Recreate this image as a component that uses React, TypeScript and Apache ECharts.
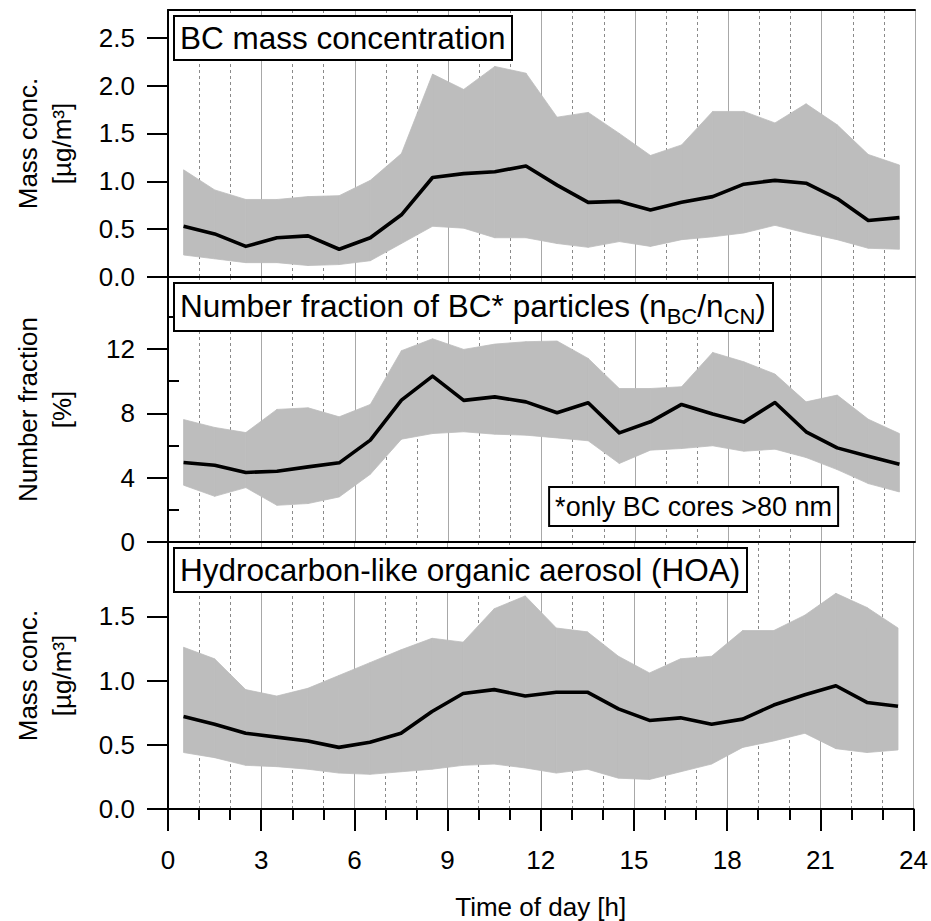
import React, { useEffect, useRef } from "react";
import * as echarts from "echarts";

const FONT = "'Liberation Sans', Arial, Helvetica, sans-serif";

// Time of day (hour bin centres)
const hours = [0.5, 1.5, 2.5, 3.5, 4.5, 5.5, 6.5, 7.5, 8.5, 9.5, 10.5, 11.5, 12.5, 13.5, 14.5, 15.5, 16.5, 17.5, 18.5, 19.5, 20.5, 21.5, 22.5, 23.5];

// Panel 1: BC mass concentration [µg/m³]
const bcMean = [0.53, 0.45, 0.32, 0.41, 0.43, 0.29, 0.41, 0.65, 1.04, 1.08, 1.1, 1.16, 0.96, 0.78, 0.79, 0.7, 0.78, 0.84, 0.97, 1.01, 0.98, 0.82, 0.59, 0.62];
const bcUpper = [1.12, 0.91, 0.81, 0.81, 0.84, 0.85, 1.01, 1.29, 2.12, 1.96, 2.2, 2.13, 1.67, 1.72, 1.5, 1.27, 1.38, 1.73, 1.73, 1.61, 1.81, 1.59, 1.28, 1.17];
const bcLower = [0.23, 0.19, 0.15, 0.15, 0.12, 0.13, 0.17, 0.35, 0.53, 0.51, 0.41, 0.41, 0.35, 0.31, 0.37, 0.32, 0.39, 0.42, 0.46, 0.54, 0.46, 0.39, 0.3, 0.29];

// Panel 2: number fraction of BC* particles [%]
const nfMean = [4.94, 4.77, 4.32, 4.4, 4.67, 4.92, 6.33, 8.82, 10.31, 8.8, 9.02, 8.71, 8.03, 8.65, 6.78, 7.47, 8.55, 7.95, 7.45, 8.67, 6.85, 5.85, 5.33, 4.83];
const nfUpper = [7.61, 7.12, 6.8, 8.24, 8.34, 7.78, 8.55, 11.89, 12.63, 11.97, 12.3, 12.45, 12.49, 11.41, 9.54, 9.54, 9.65, 11.78, 11.2, 10.44, 8.71, 9.13, 7.63, 6.74];
const nfLower = [3.53, 2.84, 3.38, 2.28, 2.39, 2.8, 4.21, 6.39, 6.74, 6.85, 6.7, 6.64, 6.47, 6.29, 4.88, 5.71, 5.81, 5.98, 5.64, 5.77, 5.25, 4.5, 3.63, 3.11];

// Panel 3: HOA mass concentration [µg/m³]
const hoaMean = [0.72, 0.66, 0.59, 0.56, 0.53, 0.48, 0.52, 0.59, 0.76, 0.9, 0.93, 0.88, 0.91, 0.91, 0.78, 0.69, 0.71, 0.66, 0.7, 0.81, 0.89, 0.96, 0.83, 0.8];
const hoaUpper = [1.26, 1.17, 0.93, 0.88, 0.94, 1.04, 1.14, 1.24, 1.33, 1.3, 1.56, 1.66, 1.41, 1.38, 1.19, 1.06, 1.17, 1.19, 1.39, 1.39, 1.51, 1.68, 1.57, 1.41];
const hoaLower = [0.44, 0.4, 0.34, 0.33, 0.31, 0.28, 0.27, 0.29, 0.31, 0.34, 0.35, 0.32, 0.28, 0.31, 0.24, 0.23, 0.29, 0.35, 0.48, 0.53, 0.59, 0.47, 0.44, 0.46];

// Tick values
const bcTicks = [0, 0.5, 1, 1.5, 2, 2.5];
const nfTicks = [0, 4, 8, 12];
const nfMinorTicks = [2, 6, 10, 14];
const hoaTicks = [0, 0.5, 1, 1.5];

// Panel titles
const titles = [
  "BC mass concentration",
  "Number fraction of BC* particles (n{sub|BC}/n{sub|CN})",
  "Hydrocarbon-like organic aerosol (HOA)",
];
const footnote = "*only BC cores >80 nm";

const BAND = "#bdbdbd";

function pairs(vals: number[]) {
  return hours.map((h, i) => [h, vals[i]]);
}

// band segments between consecutive hours: [x0, lo0, up0, x1, lo1, up1]
function bandSegments(up: number[], lo: number[]) {
  const out: number[][] = [];
  for (let i = 0; i < hours.length - 1; i++) {
    out.push([hours[i], lo[i], up[i], hours[i + 1], lo[i + 1], up[i + 1]]);
  }
  return out;
}

function xBase(gi: number) {
  return {
    type: "value",
    gridIndex: gi,
    min: 0,
    max: 24,
    interval: 3,
    axisLine: { show: true, onZero: false, lineStyle: { color: "#000", width: 2 } },
    axisTick: { show: false },
    axisLabel: { show: false },
    splitLine: { show: true, lineStyle: { color: "#a8a8a8", width: 1 } },
    minorTick: { show: false, splitNumber: 3 },
    minorSplitLine: { show: true, lineStyle: { color: "#8a8a8a", width: 1, type: [3, 3] } },
  };
}

function yBase(gi: number, max: number, ticks: number[], name: string, dec: number) {
  return {
    type: "value",
    gridIndex: gi,
    min: 0,
    max,
    axisLine: { show: true, onZero: false, lineStyle: { color: "#000", width: 2 } },
    axisTick: { show: true, length: 21, customValues: ticks, lineStyle: { color: "#000", width: 2 } },
    axisLabel: {
      show: true,
      customValues: ticks,
      margin: 33,
      fontSize: 26,
      color: "#000",
      fontFamily: FONT,
      formatter: (v: number) => v.toFixed(dec),
    },
    splitLine: { show: false },
    name,
    nameLocation: "middle",
    nameGap: 89,
    nameRotate: 90,
    nameTextStyle: { fontSize: 26, lineHeight: 34, color: "#000", fontFamily: FONT },
  };
}

function bandSeries(idx: number, up: number[], lo: number[], mean: number[]) {
  return [
    {
      type: "custom",
      xAxisIndex: idx,
      yAxisIndex: idx,
      data: bandSegments(up, lo),
      encode: { x: [0, 3], y: [1, 2, 4, 5] },
      silent: true,
      z: 2,
      renderItem: (params: any, api: any) => {
        const a = api.coord([api.value(0), api.value(1)]);
        const b = api.coord([api.value(3), api.value(4)]);
        const c = api.coord([api.value(3), api.value(5)]);
        const d = api.coord([api.value(0), api.value(2)]);
        return {
          type: "polygon",
          shape: { points: [a, b, c, d] },
          style: { fill: BAND, stroke: BAND, lineWidth: 0.8 },
        };
      },
    },
    {
      type: "line",
      xAxisIndex: idx,
      yAxisIndex: idx,
      data: pairs(mean),
      symbol: "none",
      lineStyle: { color: "#000", width: 3.6, join: "round" },
      z: 4,
    },
  ];
}

const boxStyle = {
  backgroundColor: "#fff",
  borderColor: "#000",
  borderWidth: 2,
};

const option = {
  animation: false,
  backgroundColor: "#fff",
  textStyle: { fontFamily: FONT },
  title: [
    {
      text: titles[0],
      left: 174,
      top: 16,
      padding: [2, 7, 2, 6],
      ...boxStyle,
      textStyle: { fontSize: 31.5, fontWeight: "normal", lineHeight: 40, color: "#000", fontFamily: FONT },
    },
    {
      text: titles[1],
      left: 174,
      top: 283,
      padding: [2, 7, 4, 6],
      ...boxStyle,
      textStyle: {
        fontSize: 31.5,
        fontWeight: "normal",
        lineHeight: 42,
        color: "#000",
        fontFamily: FONT,
        rich: {
          sub: { fontSize: 22, lineHeight: 22, verticalAlign: "bottom", color: "#000", fontFamily: FONT },
        },
      },
    },
    {
      text: footnote,
      right: 93,
      top: 487,
      padding: [2, 6, 2, 6],
      ...boxStyle,
      textStyle: { fontSize: 27, fontWeight: "normal", lineHeight: 35, color: "#000", fontFamily: FONT },
    },
    {
      text: titles[2],
      left: 174,
      top: 548,
      padding: [2, 7, 2, 6],
      ...boxStyle,
      textStyle: { fontSize: 31.5, fontWeight: "normal", lineHeight: 40, color: "#000", fontFamily: FONT },
    },
  ],
  grid: [
    { left: 168, right: 16, top: 10, height: 267 },
    { left: 168, right: 16, top: 277, height: 265 },
    { left: 168, right: 16, top: 542, height: 267 },
  ],
  xAxis: [
    xBase(0),
    xBase(1),
    {
      ...xBase(2),
      axisTick: { show: true, length: 22, lineStyle: { color: "#000", width: 2 } },
      minorTick: { show: true, splitNumber: 3, length: 11, lineStyle: { color: "#000", width: 2 } },
      axisLabel: { show: true, margin: 38, fontSize: 26, color: "#000", fontFamily: FONT },
      name: "Time of day [h]",
      nameLocation: "middle",
      nameGap: 85,
      nameTextStyle: { fontSize: 26, color: "#000", fontFamily: FONT },
    },
    {
      type: "value",
      gridIndex: 0,
      position: "top",
      min: 0,
      max: 24,
      axisLine: { show: true, onZero: false, lineStyle: { color: "#000", width: 2 } },
      axisTick: { show: false },
      axisLabel: { show: false },
      splitLine: { show: false },
    },
  ],
  yAxis: [
    yBase(0, 2.79, bcTicks, "Mass conc.\n[µg/m³]", 1),
    yBase(1, 16.47, nfTicks, "Number fraction\n[%]", 0),
    yBase(2, 2.08, hoaTicks, "Mass conc.\n[µg/m³]", 1),
    {
      type: "value",
      gridIndex: 1,
      min: 0,
      max: 16.47,
      axisLine: { show: false },
      axisTick: { show: true, length: 11, customValues: nfMinorTicks, lineStyle: { color: "#000", width: 2 } },
      axisLabel: { show: false },
      splitLine: { show: false },
    },
  ],
  series: [
    ...bandSeries(0, bcUpper, bcLower, bcMean),
    ...bandSeries(1, nfUpper, nfLower, nfMean),
    ...bandSeries(2, hoaUpper, hoaLower, hoaMean),
  ],
};

export default function App() {
  const ref = useRef<HTMLDivElement>(null);
  useEffect(() => {
    if (!ref.current) return;
    const chart = echarts.init(ref.current, null, { renderer: "svg" });
    chart.setOption(option as any);
    return () => chart.dispose();
  }, []);
  return (
    <div
      ref={ref}
      style={{ position: "fixed", left: 0, top: 0, width: 931, height: 921, background: "#fff" }}
    />
  );
}
